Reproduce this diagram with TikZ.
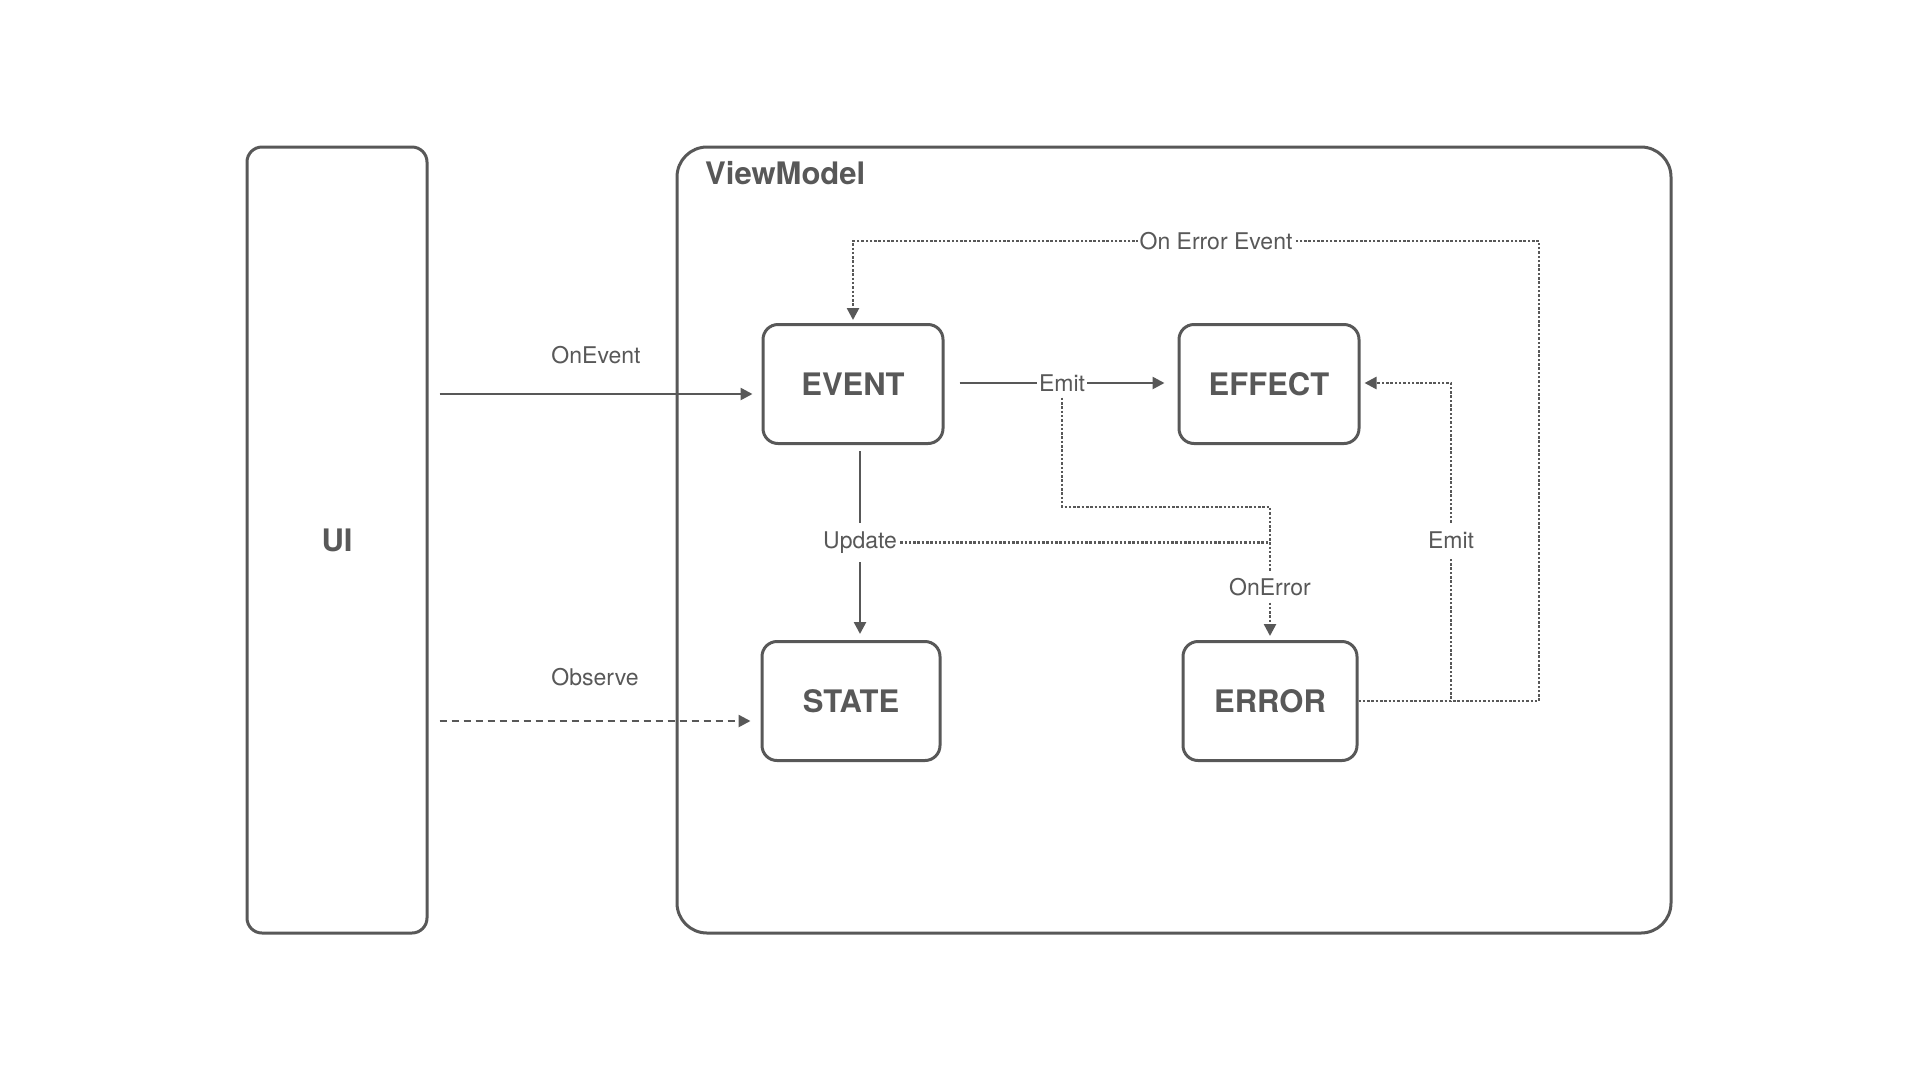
\documentclass[tikz,border=0pt]{standalone}
\usepackage{fontspec}
\setmainfont{TeX Gyre Heros}
\usetikzlibrary{arrows.meta,calc}
\definecolor{ink}{HTML}{585858}
\begin{document}
\begin{tikzpicture}[x=1pt,y=-1pt,
  box/.style={draw=ink, line width=3pt, rounded corners=15pt, minimum width=180pt, minimum height=119pt,
    font=\fontsize{31}{37}\selectfont\bfseries, text=ink, inner sep=0pt},
  lbl/.style={font=\fontsize{23}{28}\selectfont, text=ink, fill=white, inner xsep=2pt, inner ysep=3pt},
  conn/.style={draw=ink, line width=2.5pt},
  tip/.style={-{Triangle[length=12pt,width=12pt]}},
  dots/.style={dash pattern=on 2.5pt off 1.8pt},
  dashln/.style={dash pattern=on 7pt off 5pt}]
\useasboundingbox[fill=white] (0,0) rectangle (1920,1080);

% containers
\node[box, minimum height=786pt] (ui) at (337,540) {UI};
\node[box, minimum width=994pt, minimum height=786pt, rounded corners=30pt] (vm) at (1174,540) {};
\node[anchor=west, font=\fontsize{31}{37}\selectfont\bfseries, text=ink, inner sep=0pt] (vmt) at (705,173) {ViewModel};

% inner boxes
\node[box] (event) at (853,384) {EVENT};
\node[box] (effect) at (1269,384) {EFFECT};
\node[box, minimum width=178pt] (state) at (851,701) {STATE};
\node[box, minimum width=174pt] (error) at (1270,701) {ERROR};

% helper coordinates
\coordinate (yOE) at (0,394);
\coordinate (yOB) at (0,721);
\coordinate (yK) at (0,507);
\coordinate (yOL) at (0,587);
\coordinate (yEm) at (0,540);
\coordinate (cE) at (1451,383);
\coordinate (cO) at (1539,241);

% UI -> EVENT
\draw[conn,tip] ($(ui.east|-yOE)+(11,0)$) -- ($(event.west|-yOE)+(-9,0)$)
  node[midway, lbl, fill=none, yshift=39pt] (lOnEvent) {OnEvent};
% UI -> STATE
\draw[conn,tip,dashln] ($(ui.east|-yOB)+(11,0)$) -- ($(state.west|-yOB)+(-10,0)$)
  node[midway, lbl, fill=none, yshift=44pt] (lObserve) {Observe};

% EVENT -> EFFECT
\draw[conn,tip] ($(event.east)+(15,-1)$) -- ($(effect.west)+(-13,-1)$)
  node[midway, lbl, inner ysep=5pt] (emA) {Emit};

% EVENT -> STATE
\draw[conn,tip] ($(event.south)+(7,6)$) -- ($(event.south|-state.north)+(7,-6)$)
  node[midway, lbl, inner ysep=9pt] (upd) {Update};

% Emit -> ERROR (OnError)
\draw[conn,tip,dots] (emA.south) -- (emA.south|-yK) -| ($(error.north)+(0,-4)$);
\draw[conn,dots] (upd.east) -- (upd.east-|error.north);
\node[lbl, inner ysep=6pt] (lOnError) at (error.north|-yOL) {OnError};

% ERROR -> EFFECT (Emit)
\draw[conn,tip,dots] (error.east) -| (cE) -- ($(effect.east)+(4,-1)$);
\node[lbl, inner ysep=9pt] (lEmitB) at (cE|-yEm) {Emit};

% ERROR -> EVENT (On Error Event)
\draw[conn,tip,dots] (error.east) -| (cO) -| ($(event.north)+(0,-3)$);
\node[lbl] (lOEE) at (1216,241) {On Error Event};
\end{tikzpicture}
\end{document}
